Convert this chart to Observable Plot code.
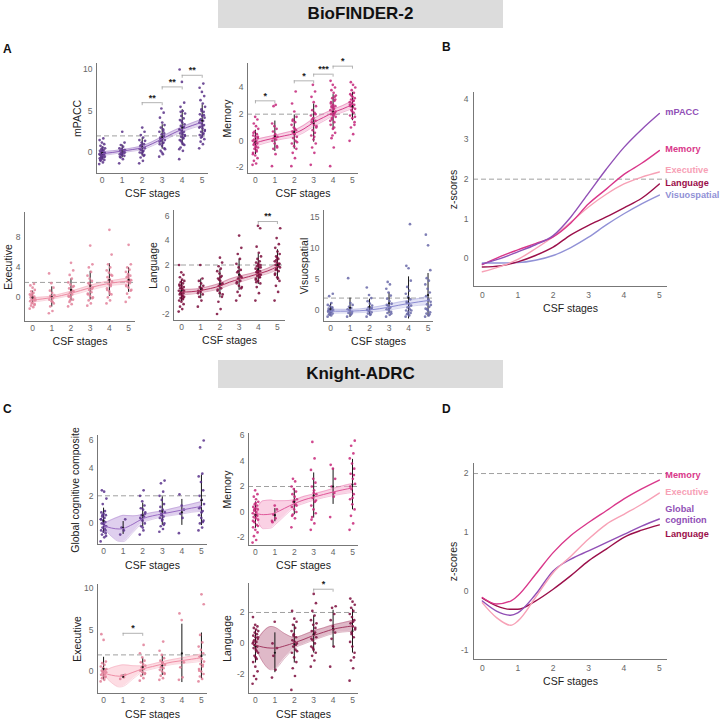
<!DOCTYPE html>
<html><head><meta charset="utf-8">
<script src="https://cdn.jsdelivr.net/npm/d3@7"></script>
<script src="https://cdn.jsdelivr.net/npm/@observablehq/plot@0.6"></script>
<style>
body{margin:0;background:#fff;font-family:"Liberation Sans",Arial,sans-serif;}
#fig{position:relative;width:720px;height:719px;overflow:hidden;background:#fff;}
.bar{position:absolute;background:#dcdcdc;text-align:center;font-weight:bold;font-size:17px;color:#111;height:28px;line-height:28px;}
.lab{position:absolute;font-weight:bold;font-size:12px;line-height:12px;color:#111;}
</style></head><body><div id="fig"></div>
<script>
const FONT = '"Liberation Sans", Arial, sans-serif';
const stages = [0,1,2,3,4,5];

// ---------- BioFINDER-2: individual scores by CSF stage ----------
const bfMpacc = [
 [-1.4,-1.2,-1.0,-0.9,-0.8,-0.7,-0.6,-0.5,-0.5,-0.4,-0.3,-0.3,-0.2,-0.2,-0.1,0,0,0.1,0.2,0.3,0.4,0.5,0.6,0.8,1.0,1.2,1.5,1.7,-0.6,-0.1,0.2,-0.9],
 [-1.3,-0.8,-0.6,-0.4,-0.3,-0.2,-0.1,0,0,0.1,0.2,0.3,0.4,0.5,0.7,0.9,1.2,2.5,-0.5,0.1,-0.2,0.3],
 [-1.3,-1.0,-0.6,-0.3,-0.1,0,0.2,0.3,0.5,0.6,0.8,1.0,1.2,1.5,1.8,2.1,2.5,3.0,0.4,-0.4,0.9,1.4,0.1],
 [-0.5,-0.2,0.2,0.5,0.8,1.0,1.2,1.4,1.5,1.7,1.8,2.0,2.2,2.5,2.8,3.0,3.3,3.6,4.2,4.8,5.3,0.4,1.1,1.6,2.3,0.0,1.3,2.6],
 [-0.8,0.2,0.6,0.9,1.2,1.5,1.7,1.9,2.0,2.2,2.3,2.5,2.6,2.8,3.0,3.2,3.4,3.6,3.9,4.1,4.4,4.7,5.0,5.5,6.0,8.5,10.0,1.0,1.4,2.1,2.4,2.7,3.1,3.8,0.4,1.8,4.9],
 [0.5,1.0,1.3,1.6,1.9,2.1,2.3,2.5,2.7,2.9,3.1,3.3,3.5,3.6,3.8,4.0,4.2,4.4,4.6,4.9,5.2,5.5,5.9,6.3,6.8,7.3,7.8,8.3,1.8,2.6,3.2,3.9,4.5,5.0,3.0,2.2]
];
const bfMemory = [
 [-1.8,-1.7,-1.5,-1.3,-1.1,-0.9,-0.8,-0.6,-0.5,-0.4,-0.3,-0.2,-0.1,0,0,0.1,0.2,0.3,0.4,0.5,0.7,0.9,1.1,1.3,1.6,1.8,-1.0,-0.7,-0.2,0.3,-0.5,0.6],
 [-1.9,-1.0,-0.6,-0.4,-0.2,0,0.1,0.2,0.3,0.5,0.7,0.9,1.1,1.3,2.7,2.6,-0.5,0.4],
 [-1.9,-1.3,-0.9,-0.6,-0.4,-0.2,0,0.2,0.3,0.5,0.7,0.8,1.0,1.2,1.4,1.6,1.8,2.2,2.8,3.7,0.6,-0.1,0.9,1.5],
 [-1.8,-0.9,-0.5,-0.2,0.1,0.4,0.6,0.8,1.0,1.2,1.4,1.5,1.7,1.9,2.1,2.3,2.6,2.9,3.3,3.7,4.2,1.1,0.3,1.6,2.0],
 [-1.9,-0.5,0.2,0.6,0.9,1.2,1.4,1.6,1.8,1.9,2.0,2.1,2.2,2.3,2.4,2.5,2.6,2.7,2.8,3.0,3.2,3.4,3.6,3.8,4.0,4.2,4.5,1.0,1.7,2.2,2.5,2.9,3.3,0.4,1.5,2.0,2.6,3.1],
 [0.0,0.5,1.0,1.4,1.7,1.9,2.1,2.3,2.4,2.5,2.6,2.7,2.8,2.9,3.0,3.1,3.2,3.3,3.5,3.6,3.8,4.0,4.2,4.4,1.2,2.2,2.7,3.0,3.4,1.8]
];
const bfExecutive = [
 [-1.5,-1.3,-1.1,-0.9,-0.7,-0.5,-0.4,-0.3,-0.2,-0.1,0,0.1,0.2,0.4,0.6,0.8,1.0,1.3,1.6,1.8,-0.8,-0.4,0.0,0.3,-1.0,0.5],
 [-2.1,-1.8,-1.2,-0.8,-0.5,-0.3,-0.1,0.1,0.3,0.6,0.9,1.3,1.9,3.2,-0.6,0.2],
 [-1.2,-0.9,-0.6,-0.3,0,0.2,0.4,0.6,0.8,1.0,1.2,1.4,1.7,2.0,2.5,3.0,3.6,4.6,0.1,0.9,-0.4,1.5],
 [-1.1,-0.8,-0.4,-0.1,0.2,0.5,0.7,1.0,1.3,1.6,1.9,2.2,2.5,2.9,3.4,4.0,4.4,6.9,0.4,1.1,1.8,0.0],
 [-0.8,-0.4,0,0.4,0.8,1.2,1.5,1.8,2.1,2.4,2.7,3.0,3.3,3.6,4.0,4.4,5.7,9.0,1.0,1.7,2.3,2.9,0.5],
 [-0.6,0,0.5,0.9,1.3,1.6,1.9,2.1,2.3,2.5,2.7,2.9,3.1,3.4,3.7,4.0,4.4,7.0,1.5,2.2,2.8,1.0]
];
const bfLanguage = [
 [-1.8,-1.6,-1.4,-1.2,-1.0,-0.9,-0.8,-0.7,-0.6,-0.5,-0.4,-0.3,-0.2,-0.1,0,0.1,0.2,0.3,0.4,0.5,0.6,0.7,0.8,1.0,1.2,1.4,2.0,-0.5,-0.3,-0.1,0.1,0.3,-0.7],
 [-1.4,-0.9,-0.6,-0.4,-0.2,-0.1,0,0.2,0.3,0.5,0.7,0.9,2.0,-0.3,0.1],
 [-2.0,-1.6,-1.0,-0.6,-0.3,-0.1,0.1,0.3,0.5,0.7,0.9,1.1,1.3,1.5,1.7,1.9,2.2,2.6,0.0,0.4,0.8,-0.4,1.0],
 [-0.9,-0.5,-0.2,0.1,0.3,0.5,0.7,0.9,1.0,1.2,1.4,1.6,1.8,2.1,2.5,2.9,3.4,4.4,0.6,1.1,1.5,0.2],
 [-0.9,-0.3,0.2,0.5,0.7,0.9,1.0,1.1,1.2,1.3,1.4,1.5,1.6,1.7,1.8,1.9,2.0,2.1,2.2,2.3,2.5,2.7,3.0,3.5,5.0,5.2,0.8,1.2,1.5,1.8,2.0,0.6,1.0,1.4],
 [-0.9,-0.2,0.3,0.7,1.0,1.3,1.5,1.7,1.8,1.9,2.0,2.1,2.2,2.3,2.5,2.7,2.9,3.1,3.4,3.7,4.2,5.0,0.9,1.6,2.1,2.6,1.2,1.9,2.4]
];
const bfVisuo = [
 [-1.0,-0.8,-0.6,-0.5,-0.3,-0.2,-0.1,0,0.1,0.2,0.3,0.5,0.7,0.9,1.2,2.3,2.7,-0.4,0.0,0.4,-0.7],
 [-1.0,-0.7,-0.4,-0.2,0,0.2,0.4,0.6,0.9,1.2,5.2,-0.5,0.1],
 [-1.0,-0.7,-0.5,-0.3,-0.1,0.1,0.3,0.5,0.8,1.1,1.5,2.0,2.5,3.7,-0.6,0.0,0.4],
 [-1.0,-0.7,-0.4,-0.2,0,0.2,0.5,0.8,1.1,1.5,1.9,2.4,2.9,3.5,4.2,4.6,-0.5,0.3,0.9],
 [-1.0,-0.8,-0.6,-0.4,-0.2,0,0.2,0.5,0.8,1.1,1.4,1.8,2.2,2.7,3.2,3.8,4.8,6.8,7.2,13.9,-0.5,0.0,0.6,1.2],
 [-1.0,-0.8,-0.5,-0.3,0,0.3,0.6,1.0,1.4,1.8,2.3,2.9,3.5,4.2,4.8,5.2,6.5,10.5,12.2,-0.6,0.2,0.9,1.6]
];

// ---------- BioFINDER-2: fitted trajectories (z-scores) ----------
const bfFitX = [0,0.5,1,1.5,2,2.5,3,3.5,4,4.5,5];
const bfFitMpacc     = [-0.13,0.0,0.17,0.35,0.58,1.05,1.65,2.25,2.8,3.25,3.65];
const bfFitMemory    = [-0.15,0.05,0.22,0.38,0.55,0.9,1.38,1.75,2.12,2.4,2.72];
const bfFitExecutive = [-0.33,-0.2,-0.02,0.25,0.55,0.92,1.3,1.62,1.88,2.05,2.18];
const bfFitLanguage  = [-0.21,-0.18,-0.08,0.08,0.29,0.6,0.84,1.05,1.28,1.52,1.88];
const bfFitVisuo     = [-0.11,-0.11,-0.1,-0.04,0.08,0.28,0.54,0.85,1.13,1.38,1.6];
const bfCiMpacc      = [0.25,0.2,0.18,0.2,0.22,0.25,0.28,0.3,0.3,0.32,0.38];
const bfCiMemory     = [0.25,0.22,0.2,0.22,0.25,0.28,0.3,0.28,0.25,0.25,0.3];
const bfCiExecutive  = [0.3,0.25,0.22,0.25,0.28,0.3,0.32,0.33,0.33,0.35,0.42];
const bfCiLanguage   = [0.22,0.2,0.18,0.2,0.22,0.25,0.25,0.22,0.2,0.22,0.28];
const bfCiVisuo      = [0.35,0.3,0.28,0.3,0.35,0.4,0.45,0.5,0.5,0.55,0.7];

// significance brackets: [from stage, to stage, height, label]
const bfBrMpacc    = [[2,3,6.0,"**"],[3,4,7.9,"**"],[4,5,9.3,"**"]];
const bfBrMemory   = [[0,1,3.0,"*"],[2,3,4.5,"*"],[3,4,5.0,"***"],[4,5,5.6,"*"]];
const bfBrLanguage = [[4,5,5.55,"**"]];

// ---------- Knight-ADRC: individual scores by CSF stage ----------
const kaGlobal = [
 [-1.3,-1.0,-0.8,-0.7,-0.6,-0.5,-0.4,-0.3,-0.2,-0.1,0,0.1,0.2,0.3,0.4,0.5,0.6,0.7,0.8,0.9,1.4,1.8,2.3,2.4,-0.5,0,0.3,-0.2,0.6,-0.9],
 [-0.8,-0.5,-0.3,0.3],
 [-0.8,-0.5,-0.2,0,0.2,0.4,0.5,0.6,0.8,1.0,1.1,1.3,1.6,2.0,2.4,0.3,0.7,-0.3],
 [-0.6,-0.4,-0.2,0,0.2,0.4,0.5,0.6,0.8,1.0,1.2,1.4,1.7,2.0,2.3,2.9,3.1,0.3,0.9,-0.1,0.7],
 [-0.7,0.4,0.7,1.0,1.3,2.1],
 [-0.5,-0.3,0,0.2,0.4,0.6,0.9,1.2,1.4,1.7,2.0,2.4,3.0,3.4,3.6,5.5,6.0,0.8,1.1,0.1]
];
const kaMemory = [
 [-2.4,-2.2,-1.9,-1.6,-1.4,-1.2,-1.0,-0.8,-0.6,-0.5,-0.4,-0.3,-0.2,-0.1,0,0.1,0.2,0.3,0.4,0.5,0.6,0.8,1.0,1.2,1.4,1.7,-0.7,-0.2,0.2,-1.1,0.7],
 [-0.7,-0.5,-0.2,0.2,0.5,-0.8],
 [-1.2,-0.5,-0.2,0,0.2,0.4,0.6,0.8,1.0,1.2,1.4,1.6,1.8,2.0,2.4,2.6,0.5,0.9,-0.3],
 [-1.4,-0.9,-0.4,-0.1,0.2,0.5,0.8,1.1,1.4,1.7,2.0,2.3,2.6,3.3,4.2,5.5,0.9,1.5,-0.6],
 [-0.4,1.2,2.0,2.6,3.4,3.7,1.5],
 [-1.4,-0.9,-0.3,0.2,0.6,1.0,1.4,1.8,2.2,2.6,3.0,3.4,3.8,4.2,4.6,5.2,5.6,1.1,2.0,2.9]
];
const kaExecutive = [
 [-1.2,-1.0,-0.8,-0.6,-0.5,-0.4,-0.3,-0.2,-0.1,0,0.1,0.2,0.4,0.6,0.8,1.0,1.2,3.8,4.5,-0.7,0,0.3],
 [-0.9,-0.7,-0.5,-0.4],
 [-1.1,-0.8,-0.5,-0.3,-0.1,0.1,0.3,0.5,0.7,0.9,1.1,1.3,1.7,2.2,3.2,0.2,-0.2,0.6],
 [-1.0,-0.8,-0.5,-0.2,0,0.2,0.4,0.6,0.8,1.0,1.3,1.6,2.0,2.5,3.6,0.5,-0.3,1.1],
 [-1.0,-0.7,0.5,1.1,6.2,7.0],
 [-1.2,-0.9,-0.6,-0.3,0,0.3,0.6,0.9,1.2,1.5,1.8,2.2,2.6,3.0,3.5,4.4,8.1,9.3,0.1,0.8]
];
const kaLanguage = [
 [-2.6,-2.3,-2.1,-1.8,-1.5,-1.2,-1.0,-0.8,-0.6,-0.4,-0.3,-0.2,-0.1,0,0.1,0.2,0.3,0.4,0.5,0.6,0.7,0.8,0.9,1.0,1.1,1.2,1.7,-0.5,-0.1,0.4,-0.9,0.1],
 [-2.2,-1.7,-0.8,-0.3,1.4,0],
 [-3.0,-2.1,-1.6,-1.2,-0.9,-0.6,-0.4,-0.2,0,0.1,0.2,0.4,0.6,0.8,1.0,1.2,1.4,1.6,2.1,-0.1,0.5,-0.5],
 [-1.5,-1.1,-0.8,-0.6,-0.4,-0.2,0,0.2,0.4,0.6,0.8,1.0,1.2,1.5,1.8,2.1,2.6,3.2,0.3,0.7,-0.3,1.3],
 [-1.5,-0.2,0.3,0.7,1.1,1.5,1.9,2.3,2.4,0.9],
 [-2.4,-1.6,-1.1,-0.6,-0.2,0.1,0.4,0.7,0.9,1.1,1.3,1.5,1.7,1.9,2.1,2.3,2.5,2.7,2.9,-0.9,0.6,1.0,1.4]
];

// ---------- Knight-ADRC: fitted trajectories ----------
const kaFitX = [0,0.4,0.8,1,1.5,2,2.5,3,3.5,4,4.5,5];
const kaFitMemory    = [-0.1,-0.21,-0.16,-0.07,0.29,0.66,0.95,1.17,1.37,1.57,1.74,1.89];
const kaFitExecutive = [-0.19,-0.44,-0.57,-0.5,-0.1,0.32,0.6,0.89,1.14,1.31,1.48,1.67];
const kaFitGlobal    = [-0.16,-0.33,-0.4,-0.36,-0.05,0.35,0.55,0.69,0.83,0.97,1.11,1.23];
const kaFitLanguage  = [-0.11,-0.24,-0.3,-0.3,-0.16,0.04,0.27,0.52,0.72,0.92,1.04,1.13];
const kaCiGlobal     = [0.15,0.6,0.9,0.95,0.6,0.3,0.25,0.22,0.25,0.28,0.3,0.35];
const kaCiMemory     = [0.15,1.1,1.1,0.95,0.6,0.3,0.28,0.25,0.25,0.28,0.32,0.35];
const kaCiExecutive  = [0.2,0.9,1.3,1.3,0.8,0.35,0.3,0.3,0.3,0.35,0.4,0.45];
const kaCiLanguage   = [0.15,1.0,1.4,1.35,0.8,0.35,0.3,0.3,0.28,0.28,0.3,0.35];
const kaBrExecutive = [[1,2,4.6,"*"]];
const kaBrLanguage  = [[3,4,3.5,"*"]];

const fig = document.getElementById("fig");

function addDiv(cls, text, css){
  const d = document.createElement("div");
  d.className = cls; d.textContent = text;
  Object.assign(d.style, css);
  fig.appendChild(d);
}
addDiv("bar","BioFINDER-2",{left:"218px",top:"0px",width:"285px"});
addDiv("bar","Knight-ADRC",{left:"218px",top:"360px",width:"285px"});
addDiv("lab","A",{left:"3px",top:"43px"});
addDiv("lab","B",{left:"442px",top:"41px"});
addDiv("lab","C",{left:"3px",top:"403px"});
addDiv("lab","D",{left:"442px",top:"403px"});

function jit(i){ return ((i*0.6180339887)%1 - 0.5)*0.3; }
const fmt = d => String(d);

function place(svg, left, top){
  svg.style.position = "absolute";
  svg.style.left = left + "px";
  svg.style.top = top + "px";
  fig.appendChild(svg);
}

function axisTitles(p){
  return [
    Plot.text(["CSF stages"], {text:d=>d, frameAnchor:"bottom", textAnchor:"middle", lineAnchor:"middle", dy:p.xoff, fontSize:10.5, fill:"#222"}),
    Plot.text([p.ylabel], {text:d=>d, frameAnchor:"left", textAnchor:"middle", lineAnchor:"middle", dx:-p.yoff, rotate:-90, fontSize:10.5, fill:"#222"})
  ];
}

function smallPanel(p){
  const ml=50, mr=10, mt=14, mb=32;
  const [L,T,R,B] = p.frame;
  const w = R-L, h = B-T;
  const pts = p.pts.flatMap((vals,s)=>vals.map((v,i)=>({s, v, j: jit(i)})));
  const stats = p.pts.map((vals,s)=>{const m=d3.mean(vals), sd=d3.deviation(vals); return {s, m, lo:m-sd, hi:m+sd};});
  const fit = p.fitX.map((x,i)=>({x, y:p.fit[i], lo:p.fit[i]-p.ci[i], hi:p.fit[i]+p.ci[i]}));
  const ppu = h/(p.ydom[1]-p.ydom[0]);
  const br = (p.br||[]).map(([a,b,y,t])=>({a,b,y,t}));
  const brEnds = br.flatMap(d=>[{x:d.a,y1:d.y-3/ppu,y2:d.y},{x:d.b,y1:d.y-3/ppu,y2:d.y}]);
  const svg = Plot.plot({
    width: w+ml+mr, height: h+mt+mb,
    marginLeft: ml, marginRight: mr, marginTop: mt, marginBottom: mb,
    x: {domain: p.xdom}, y: {domain: p.ydom},
    style: {fontFamily: FONT, overflow: "visible", background: "none"},
    marks: [
      Plot.ruleY([2], {stroke:"#a0a0a0", strokeDasharray:"5,3", strokeWidth:1}),
      Plot.areaY(fit, {x:"x", y1:"lo", y2:"hi", fill:p.band, fillOpacity:p.bandOp, curve:"monotone-x"}),
      Plot.ruleX(stats, {x:"s", y1:"lo", y2:"hi", stroke:"#151515", strokeWidth:1}),
      Plot.dot(pts, {x: d=>d.s+d.j, y:"v", r:1.35, fill:p.color, fillOpacity:0.85}),
      Plot.dot(stats, {x:"s", y:"m", r:1.1, fill:"#151515"}),
      Plot.line(fit, {x:"x", y:"lo", stroke:p.line, strokeWidth:0.5, strokeOpacity:0.7, curve:"monotone-x"}),
      Plot.line(fit, {x:"x", y:"hi", stroke:p.line, strokeWidth:0.5, strokeOpacity:0.7, curve:"monotone-x"}),
      Plot.line(fit, {x:"x", y:"y", stroke:p.line, strokeWidth:1, curve:"monotone-x"}),
      Plot.ruleY(br, {x1:"a", x2:"b", y:"y", stroke:"#a0a0a0", strokeWidth:0.8}),
      Plot.ruleX(brEnds, {x:"x", y1:"y1", y2:"y2", stroke:"#a0a0a0", strokeWidth:0.8}),
      Plot.text(br, {x:d=>(d.a+d.b)/2, y:"y", text:"t", dy:-5, fontSize:9, fontWeight:"bold", fill:"#222"}),
      Plot.ruleX([p.xdom[0]], {stroke:"#777", strokeWidth:1}),
      Plot.ruleY([p.ydom[0]], {stroke:"#777", strokeWidth:1}),
      Plot.axisX(stages, {tickSize:0, tickPadding:3, fontSize:8.5, color:"#666", label:null, tickFormat:fmt}),
      Plot.axisY(p.yticks, {tickSize:0, tickPadding:4, fontSize:8.5, color:"#666", label:null, tickFormat:fmt}),
      ...axisTitles(p)
    ]
  });
  place(svg, L-ml, T-mt);
}

const cMp = {color:"#5a3388", band:"#b79ad6", line:"#8a5cb8"};
const cMe = {color:"#c4267a", band:"#f0a0c8", line:"#d63a8a"};
const cEx = {color:"#e3849c", band:"#f7b3c4", line:"#ee8ca4"};
const cLa = {color:"#7a0c3b", band:"#d98aa8", line:"#b0305e"};
const cVi = {color:"#6868a8", band:"#c0c0ea", line:"#8a8ad0"};

smallPanel({...cMp, frame:[96,63,208,173], xdom:[-0.285,5.315], ydom:[-2.53,10.72], yticks:[0,5,10], ylabel:"mPACC", yoff:19, xoff:20,
  pts:bfMpacc, fitX:bfFitX, fit:bfFitMpacc, ci:bfCiMpacc, br:bfBrMpacc, bandOp:0.45});
smallPanel({...cMe, frame:[247,63,358,173], xdom:[-0.41,5.31], ydom:[-2.45,5.8], yticks:[-2,0,2,4], ylabel:"Memory", yoff:20, xoff:20,
  pts:bfMemory, fitX:bfFitX, fit:bfFitMemory, ci:bfCiMemory, br:bfBrMemory, bandOp:0.45});
smallPanel({...cEx, frame:[24,212,135,321], xdom:[-0.42,5.36], ydom:[-3.2,11.3], yticks:[0,4,8], ylabel:"Executive", yoff:16, xoff:20,
  pts:bfExecutive, fitX:bfFitX, fit:bfFitExecutive, ci:bfCiExecutive, br:[], bandOp:0.45});
smallPanel({...cLa, frame:[173,210,285,320], xdom:[-0.42,5.42], ydom:[-2.53,6.45], yticks:[-2,0,2,4,6], ylabel:"Language", yoff:20, xoff:20,
  pts:bfLanguage, fitX:bfFitX, fit:bfFitLanguage, ci:bfCiLanguage, br:bfBrLanguage, bandOp:0.45});
smallPanel({...cVi, frame:[323,210,433,321], xdom:[-0.36,5.28], ydom:[-1.77,16.1], yticks:[0,5,10,15], ylabel:"Visuospatial", yoff:19, xoff:20,
  pts:bfVisuo, fitX:bfFitX, fit:bfFitVisuo, ci:bfCiVisuo, br:[], bandOp:0.45});

const kGl = {color:"#5b338c", band:"#c9afe3", line:"#9a6cc4"};
const kMe = {color:"#c8287a", band:"#f6b2d2", line:"#e0579a"};
const kEx = {color:"#e07f98", band:"#fbc4d0", line:"#ef8ea6"};
const kLa = {color:"#7d0d3d", band:"#c98aa4", line:"#a33a62"};

smallPanel({...kGl, frame:[97,435,207,544], xdom:[-0.31,5.31], ydom:[-1.52,6.36], yticks:[0,2,4,6], ylabel:"Global cognitive composite", yoff:22, xoff:21,
  pts:kaGlobal, fitX:kaFitX, fit:kaFitGlobal, ci:kaCiGlobal, br:[], bandOp:0.6});
smallPanel({...kMe, frame:[248,433,358,545], xdom:[-0.36,5.31], ydom:[-2.63,6.16], yticks:[-2,0,2,4,6], ylabel:"Memory", yoff:21, xoff:20,
  pts:kaMemory, fitX:kaFitX, fit:kaFitMemory, ci:kaCiMemory, br:[], bandOp:0.6});
smallPanel({...kEx, frame:[97,584,207,693], xdom:[-0.31,5.31], ydom:[-2.65,10.48], yticks:[0,5,10], ylabel:"Executive", yoff:20, xoff:21,
  pts:kaExecutive, fitX:kaFitX, fit:kaFitExecutive, ci:kaCiExecutive, br:kaBrExecutive, bandOp:0.6});
smallPanel({...kLa, frame:[248,583,358,693], xdom:[-0.36,5.31], ydom:[-3.23,3.87], yticks:[-2,0,2], ylabel:"Language", yoff:21, xoff:21,
  pts:kaLanguage, fitX:kaFitX, fit:kaFitLanguage, ci:kaCiLanguage, br:kaBrLanguage, bandOp:0.6});

// ---------- trajectory panels B & D ----------
function trajPanel(p){
  const ml=50, mr=70, mt=14, mb=34;
  const [L,T,R,B] = p.frame;
  const w = R-L, h = B-T;
  const marks = [
    Plot.ruleY([2], {stroke:"#a0a0a0", strokeDasharray:"5,3", strokeWidth:1}),
    Plot.ruleX([p.xdom[0]], {stroke:"#777", strokeWidth:1}),
    Plot.ruleY([p.ydom[0]], {stroke:"#777", strokeWidth:1}),
    Plot.axisX(stages, {tickSize:0, tickPadding:5, fontSize:8.5, color:"#666", label:null, tickFormat:fmt}),
    Plot.axisY(p.yticks, {tickSize:0, tickPadding:5, fontSize:8.5, color:"#666", label:null, tickFormat:fmt}),
    ...axisTitles({xoff:22, yoff:20, ylabel:"z-scores"})
  ];
  for (const s of p.series){
    const rows = p.x.map((x,i)=>({x, y:s.y[i]}));
    marks.push(Plot.line(rows, {x:"x", y:"y", stroke:s.color, strokeWidth:1.4, curve:"monotone-x"}));
  }
  for (const s of p.series){
    marks.push(Plot.text([s], {x:()=>p.x[p.x.length-1], y:d=>d.y[d.y.length-1], text:d=>d.name, dx:6, dy:s.dy,
      textAnchor:"start", fill:s.color, fontWeight:"bold", fontSize:9.2, lineHeight:1.15}));
  }
  const svg = Plot.plot({
    width: w+ml+mr, height: h+mt+mb,
    marginLeft: ml, marginRight: mr, marginTop: mt, marginBottom: mb,
    x: {domain: p.xdom}, y: {domain: p.ydom},
    style: {fontFamily: FONT, overflow: "visible", background: "none"},
    marks
  });
  place(svg, L-ml, T-mt);
}

trajPanel({frame:[473,92,667,286], xdom:[-0.25,5.23], ydom:[-0.7,4.18], yticks:[0,1,2,3,4], x:bfFitX, series:[
  {name:"Visuospatial", y:bfFitVisuo, color:"#9191d6", dy:0},
  {name:"Language", y:bfFitLanguage, color:"#9b0f4a", dy:-1},
  {name:"Executive", y:bfFitExecutive, color:"#f7a1b6", dy:-2},
  {name:"Memory", y:bfFitMemory, color:"#d9378a", dy:-2},
  {name:"mPACC", y:bfFitMpacc, color:"#9150b6", dy:-2}
]});
trajPanel({frame:[473,463,667,659], xdom:[-0.25,5.23], ydom:[-1.15,2.17], yticks:[-1,0,1,2], x:kaFitX, series:[
  {name:"Language", y:kaFitLanguage, color:"#9b0f4a", dy:9},
  {name:"Global\ncognition", y:kaFitGlobal, color:"#9150b6", dy:-5},
  {name:"Executive", y:kaFitExecutive, color:"#f7a1b6", dy:-1},
  {name:"Memory", y:kaFitMemory, color:"#d9378a", dy:-5}
]});
</script></body></html>
